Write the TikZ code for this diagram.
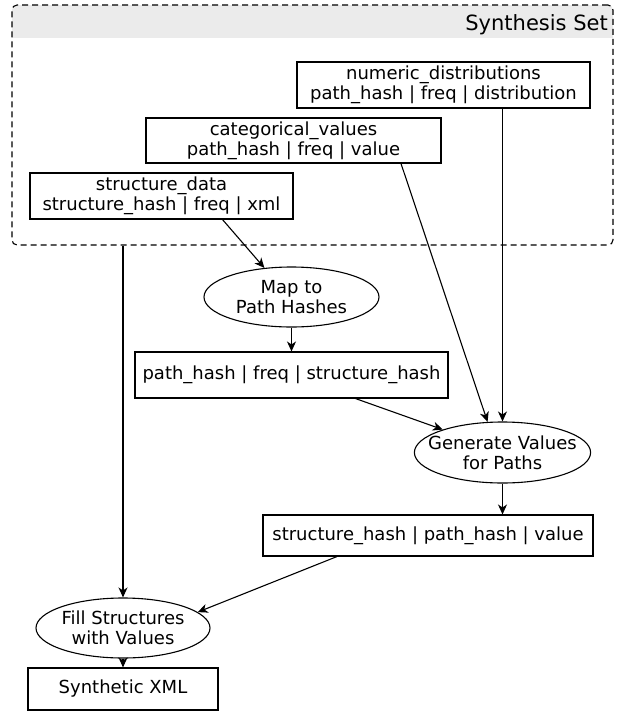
\documentclass[tikz,border=0pt]{standalone}
\usepackage{fontspec}
\setmainfont{DejaVu Sans}
\usetikzlibrary{arrows.meta,shapes.geometric}
\begin{document}
\begin{tikzpicture}[x=1pt,y=-1pt,
  every node/.style={font=\fontsize{18}{20}\selectfont, inner sep=0pt, align=center},
  tbl/.style={draw, line width=1.1pt, rectangle},
  proc/.style={draw, line width=1.1pt, ellipse},
  arr/.style={-{Stealth[length=10pt,width=9pt,inset=3pt]}, line width=1.1pt}]
\useasboundingbox (0,0) rectangle (626,713);
% cluster
\begin{scope}
  \clip[rounded corners=5pt] (12,5) rectangle (613,245);
  \fill[black!8] (12,5) rectangle (613,38);
\end{scope}
\node (set) [draw, dash pattern=on 6pt off 4pt, line width=1.1pt, rounded corners=5pt, minimum width=601pt, minimum height=240pt] at (312.5,125) {};
\node (settitle) [anchor=base east, font=\fontsize{21}{24}\selectfont] at (608,30) {Synthesis Set};
% nodes
\node (num) [tbl, minimum width=293pt, minimum height=46pt] at (443.5,85) {numeric\_distributions\\path\_hash | freq | distribution};
\node (cat) [tbl, minimum width=295pt, minimum height=45pt] at (293.5,140.5) {categorical\_values\\path\_hash | freq | value};
\node (sd) [tbl, minimum width=263pt, minimum height=46pt] at (161.5,196) {structure\_data\\structure\_hash | freq | xml};
\node (map) [proc, minimum width=175pt, minimum height=60pt] at (291.5,297) {Map to\\Path Hashes};
\node (ph) [tbl, minimum width=313pt, minimum height=46pt] at (291.5,375) {path\_hash | freq | structure\_hash};
\node (gen) [proc, inner xsep=-12pt, inner ysep=-4pt, minimum width=175pt, minimum height=61pt] at (502.5,452.5) {Generate Values\\for Paths};
\node (sh) [tbl, minimum width=330pt, minimum height=41pt] at (428,535.5) {structure\_hash | path\_hash | value};
\node (fill) [proc, inner xsep=-4pt, inner ysep=-4pt, minimum width=174pt, minimum height=60pt] at (123,628) {Fill Structures\\with Values};
\node (xml) [tbl, minimum width=190pt, minimum height=42pt] at (123,689) {Synthetic XML};
% edges
\draw[arr] ([xshift=61pt]sd.south) -- (map.133);
\draw[arr] (map) -- (ph);
\draw[arr] ([xshift=107.5pt]cat.south) -- (gen.116);
\draw[arr] (num.south -| gen.north) -- (gen.north);
\draw[arr] ([xshift=64pt]ph.south) -- (gen.159);
\draw[arr] (gen) -- (sh.north -| gen);
\draw[arr] (fill.north |- set.south) -- (fill);
\draw[arr] ([xshift=-91pt]sh.south) -- (fill.12);
\draw[arr] (fill) -- (xml);
\end{tikzpicture}
\end{document}
